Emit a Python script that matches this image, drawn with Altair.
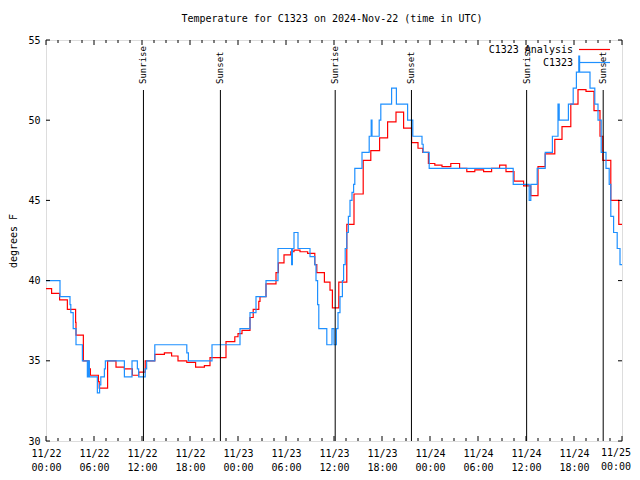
import altair as alt
import pandas as pd

TITLE = "Temperature for C1323 on 2024-Nov-22 (time in UTC)"
SERIES = ["C1323 Analysis", "C1323"]
COLORS = ["#ff0000", "#1e90ff"]

# Observed (C1323) - step changes: hour since 11/22 00:00 UTC, degrees F
OBS_HOURS = [0.0, 1.75, 3.0, 3.1, 3.4, 3.75, 4.55, 5.17, 5.29, 5.42, 6.42, 6.7, 6.85, 7.3, 7.42,
             9.8, 10.75, 11.42, 11.58, 12.4, 12.58, 13.6, 17.6, 17.8, 20.75, 24.25, 25.5, 26.25,
             27.5, 29.0, 30.7, 30.8, 31.0, 31.5, 33.0, 33.6, 33.75, 33.95, 34.1, 35.1, 35.75,
             36.0, 36.3, 36.5, 36.75, 37.05, 37.2, 37.4, 37.6, 37.8, 38.0, 38.25, 38.45, 38.6,
             39.5, 40.4, 40.65, 40.75, 41.65, 41.85, 43.2, 43.8, 45.2, 45.85, 47.0, 47.15, 47.9,
             58.4, 60.4, 60.6, 61.4, 62.4, 63.3, 64.0, 64.15, 65.3, 65.9, 66.3, 66.6, 66.7, 68.0,
             68.6, 69.0, 69.4, 70.0, 70.4, 70.6, 70.95, 71.4, 71.75, 72.0]
OBS_TEMPS = [40.0, 39.0, 38.5, 38.0, 37.0, 36.0, 35.0, 34.0, 35.0, 34.0, 33.0, 33.5, 34.0, 34.5, 35.0,
             34.0, 35.0, 34.5, 34.0, 34.5, 35.0, 36.0, 35.5, 35.0, 36.0, 37.0, 38.0, 39.0,
             40.0, 42.0, 41.0, 42.0, 43.0, 42.0, 41.5, 41.0, 40.0, 38.5, 37.0, 36.0, 37.0,
             36.0, 37.0, 38.0, 39.0, 40.0, 41.0, 42.0, 43.0, 44.0, 45.0, 45.5, 46.0, 47.0,
             48.0, 49.0, 50.0, 49.0, 50.0, 51.0, 52.0, 51.0, 50.0, 49.0, 48.5, 48.0, 47.0,
             46.0, 45.0, 46.0, 47.0, 48.0, 49.0, 51.0, 50.0, 51.0, 52.0, 53.0, 54.0, 53.0, 52.0,
             51.0, 50.0, 48.0, 47.0, 46.0, 44.0, 43.0, 42.0, 41.0, 41.0]

# Analysis (C1323 Analysis)
ANL_HOURS = [0.0, 0.7, 1.7, 2.67, 3.7, 3.75, 4.67, 5.35, 5.55, 6.55, 6.65, 7.7, 8.75, 9.8, 10.8,
             11.6, 12.4, 13.6, 14.8, 15.7, 16.5, 17.6, 18.7, 19.8, 20.5, 22.5, 23.6, 24.0, 24.5,
             25.5, 25.9, 26.6, 26.75, 27.5, 28.75, 29.05, 29.75, 30.6, 31.0, 31.75, 32.7, 33.6,
             33.85, 34.8, 35.5, 35.8, 36.6, 37.6, 38.5, 39.65, 40.6, 41.7, 42.7, 43.75, 44.7,
             45.7, 46.5, 47.1, 47.8, 48.6, 49.5, 50.6, 51.7, 52.6, 53.6, 54.7, 55.7, 56.7, 57.5,
             58.5, 59.7, 60.6, 61.5, 62.4, 63.6, 64.5, 65.6, 66.5, 67.5, 68.5, 69.25, 69.6,
             70.6, 71.6, 72.0]
ANL_TEMPS = [39.5, 39.2, 38.8, 38.2, 37.4, 36.6, 35.0, 34.5, 34.1, 33.7, 33.3, 35.0, 34.6, 34.5, 34.1,
             34.3, 35.0, 35.4, 35.5, 35.3, 35.0, 34.9, 34.6, 34.7, 35.2, 36.2, 36.5, 36.7, 36.9,
             37.7, 38.2, 38.7, 39.0, 39.8, 40.5, 41.1, 41.6, 41.8, 41.9, 41.8, 41.7, 41.0,
             40.5, 39.9, 39.4, 38.3, 39.9, 43.5, 45.4, 47.5, 48.1, 48.9, 49.9, 50.5, 49.5,
             48.6, 48.25, 48.0, 47.3, 47.2, 47.1, 47.3, 47.0, 46.8, 46.9, 46.8, 47.0, 47.2, 46.8,
             46.2, 45.9, 45.3, 47.1, 47.9, 48.8, 49.6, 51.0, 51.9, 51.8, 50.6, 49.0, 47.5,
             45.0, 43.5, 43.5]

SUN_HOURS = [12.18, 21.8, 36.15, 45.68, 60.08, 69.65]
SUN_LABELS = ["Sunrise", "Sunset", "Sunrise", "Sunset", "Sunrise", "Sunset"]

X_TICKS = list(range(0, 73, 6))
X_TICK_LABELS = [["11/22", "00:00"], ["11/22", "06:00"], ["11/22", "12:00"], ["11/22", "18:00"],
                 ["11/23", "00:00"], ["11/23", "06:00"], ["11/23", "12:00"], ["11/23", "18:00"],
                 ["11/24", "00:00"], ["11/24", "06:00"], ["11/24", "12:00"], ["11/24", "18:00"],
                 ["11/25", "00:00"]]
X_MINOR = [h * 1.5 for h in range(49) if (h * 1.5) % 6 != 0]
Y_TICKS = [30, 35, 40, 45, 50, 55]

W, H = 576, 401
FONT = "DejaVu Sans Mono"

xs = alt.Scale(domain=[0, 72], nice=False, zero=False)
ys = alt.Scale(domain=[30, 55], nice=False, zero=False)

# axis labels for all ticks except the last one (drawn as a text mark that stays inside the page)
label_arr = "[" + ",".join("['%s','%s']" % (a, b) for a, b in X_TICK_LABELS) + "]"
x_axis = alt.Axis(values=X_TICKS[:-1], labelExpr=label_arr + "[round(datum.value/6)]",
                  ticks=False, tickSize=0, domain=False, grid=False, title=None,
                  labelFont=FONT, labelFontSize=10, labelColor="black", labelPadding=7,
                  labelBaseline="top", labelLineHeight=14, labelAlign="center",
                  labelFlush=False, labelOverlap=False)
y_axis = alt.Axis(values=Y_TICKS, ticks=False, tickSize=0, domain=False, grid=False,
                  title="degrees F", titleFont=FONT, titleFontSize=10, titleFontWeight="normal",
                  titleColor="black", titleAngle=270, titleX=-33, titleY=H / 2,
                  titleAlign="center", titleBaseline="middle",
                  labelFont=FONT, labelFontSize=10, labelColor="black", labelPadding=6)

obs = pd.DataFrame({"hour": OBS_HOURS, "temp": OBS_TEMPS})
anl = pd.DataFrame({"hour": ANL_HOURS, "temp": ANL_TEMPS})
sun = pd.DataFrame({"hour": SUN_HOURS, "label": SUN_LABELS})
last_lab = pd.DataFrame({"hour": [X_TICKS[-1]], "label": ["\n".join(X_TICK_LABELS[-1])]})

red = alt.Chart(anl).mark_line(interpolate="step-after", color=COLORS[0], strokeWidth=1.2).encode(
    x=alt.X("hour:Q", scale=xs, axis=x_axis),
    y=alt.Y("temp:Q", scale=ys, axis=y_axis),
)
blue = alt.Chart(obs).mark_line(interpolate="step-after", color=COLORS[1], strokeWidth=1.2).encode(
    x=alt.X("hour:Q", scale=xs),
    y=alt.Y("temp:Q", scale=ys),
)

last_text = alt.Chart(last_lab).mark_text(align="right", baseline="top", font=FONT, fontSize=10,
                                          color="black", lineBreak="\n", lineHeight=14,
                                          dx=9).encode(
    x=alt.X("hour:Q", scale=xs), y=alt.value(H + 7), text="label:N")

sun_rules = alt.Chart(sun).mark_rule(color="black", strokeWidth=1).encode(
    x=alt.X("hour:Q", scale=xs), y=alt.value(50), y2=alt.value(H))
sun_text = alt.Chart(sun).mark_text(angle=270, align="left", baseline="middle", font=FONT,
                                     fontSize=9, color="black").encode(
    x=alt.X("hour:Q", scale=xs), y=alt.value(44), text="label:N")

maj = pd.DataFrame({"hour": X_TICKS})
mnr = pd.DataFrame({"hour": X_MINOR})
yt = pd.DataFrame({"temp": Y_TICKS})

def xticks(df, ln):
    b = alt.Chart(df).mark_rule(color="black", strokeWidth=1).encode(
        x=alt.X("hour:Q", scale=xs), y=alt.value(H), y2=alt.value(H - ln))
    t = alt.Chart(df).mark_rule(color="black", strokeWidth=1).encode(
        x=alt.X("hour:Q", scale=xs), y=alt.value(0), y2=alt.value(ln))
    return [b, t]

yl = alt.Chart(yt).mark_rule(color="black", strokeWidth=1).encode(
    y=alt.Y("temp:Q", scale=ys), x=alt.value(0), x2=alt.value(4))
yr = alt.Chart(yt).mark_rule(color="black", strokeWidth=1).encode(
    y=alt.Y("temp:Q", scale=ys), x=alt.value(W - 4), x2=alt.value(W))

legend_layers = []
for i, (name, col) in enumerate(zip(SERIES, COLORS)):
    ly = 10 + 13 * i
    ldf = pd.DataFrame({"name": [name]})
    legend_layers.append(alt.Chart(ldf).mark_text(align="right", baseline="middle", font=FONT,
                                                   fontSize=10, color="black").encode(
        x=alt.value(527), y=alt.value(ly), text="name:N"))
    legend_layers.append(alt.Chart(ldf).mark_rule(color=col, strokeWidth=1.2).encode(
        x=alt.value(533), x2=alt.value(564), y=alt.value(ly - 0.5)))

chart = alt.layer(
    red, blue, sun_rules, sun_text, last_text, *xticks(maj, 5), *xticks(mnr, 3), yl, yr,
    *legend_layers
).properties(
    width=W, height=H,
    title=alt.TitleParams(TITLE, font=FONT, fontSize=10, fontWeight="normal", color="black",
                          anchor="middle", frame="group", baseline="middle", offset=6, dx=-2),
    autosize=alt.AutoSizeParams(type="none"),
    padding={"left": 38, "top": 32, "right": 10, "bottom": 31},
).configure_view(stroke="black", strokeWidth=1).configure(background="white")

chart.save("out.html", embed_options={"renderer": "svg", "actions": False})
